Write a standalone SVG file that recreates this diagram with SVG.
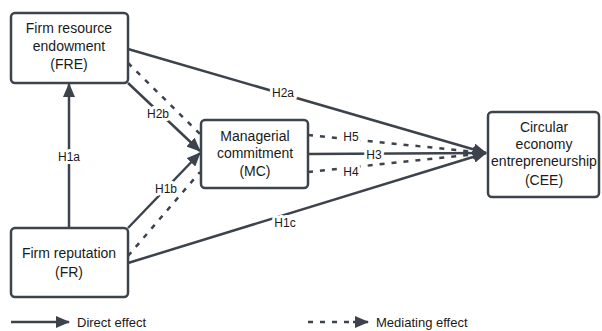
<svg xmlns="http://www.w3.org/2000/svg" width="602" height="331" viewBox="0 0 602 331">
<style>
.box{fill:#fff;stroke:#3c434c;stroke-width:2.5}
.t{font-family:"Liberation Sans",Arial,sans-serif;font-size:14px;fill:#1a1a1a;text-anchor:middle}
.lbl{font-family:"Liberation Sans",Arial,sans-serif;font-size:12px;fill:#1a1a1a;text-anchor:middle;stroke:#fff;stroke-width:6px;paint-order:stroke;stroke-linejoin:round}
.leg{font-family:"Liberation Sans",Arial,sans-serif;font-size:13px;fill:#1a1a1a}
.s{fill:none;stroke:#3c434c;stroke-width:2.5}
.d{fill:none;stroke:#3c434c;stroke-width:2.5;stroke-dasharray:5 7}
</style>
<defs>
<marker id="ah" markerUnits="userSpaceOnUse" markerWidth="14" markerHeight="12" refX="13" refY="6" orient="auto">
<path d="M0,0 L14,6 L0,12 Z" fill="#3c434c"/>
</marker>
</defs>
<g id="connectors">
<line class="s" x1="69" y1="228" x2="69" y2="84" marker-end="url(#ah)"/>
<line class="s" x1="128" y1="49" x2="486" y2="153" marker-end="url(#ah)"/>
<line class="s" x1="128" y1="83" x2="200" y2="151" marker-end="url(#ah)"/>
<line class="d" x1="128" y1="63" x2="200" y2="134"/>
<line class="s" x1="128" y1="228" x2="200" y2="153" marker-end="url(#ah)"/>
<line class="d" x1="128" y1="256" x2="200" y2="172"/>
<line class="s" x1="128" y1="263" x2="486" y2="153" marker-end="url(#ah)"/>
<line class="s" x1="308" y1="154" x2="486" y2="153" marker-end="url(#ah)"/>
<line class="d" x1="308" y1="135" x2="486" y2="153"/>
<line class="d" x1="308" y1="172" x2="486" y2="153"/>
<text class="lbl" x="69" y="161">H1a</text>
<text class="lbl" x="283" y="97">H2a</text>
<text class="lbl" x="158" y="118">H2b</text>
<text class="lbl" x="166" y="193">H1b</text>
<text class="lbl" x="285" y="227">H1c</text>
<text class="lbl" x="351" y="141">H5</text>
<text class="lbl" x="374" y="159">H3</text>
<text class="lbl" x="351" y="176">H4</text>
</g>
<g id="FRE">
<rect class="box" x="11" y="13" width="117" height="70" rx="4"/>
<text class="t" x="69" y="33">Firm resource</text>
<text class="t" x="69" y="51">endowment</text>
<text class="t" x="69" y="69">(FRE)</text>
</g>
<g id="FR">
<rect class="box" x="11" y="228" width="117" height="69" rx="4"/>
<text class="t" x="69" y="258">Firm reputation</text>
<text class="t" x="69" y="277">(FR)</text>
</g>
<g id="MC">
<rect class="box" x="201" y="120" width="107" height="68" rx="4"/>
<text class="t" x="255" y="141">Managerial</text>
<text class="t" x="255" y="158">commitment</text>
<text class="t" x="255" y="176">(MC)</text>
</g>
<g id="CEE">
<rect class="box" x="488" y="112" width="111" height="85" rx="4"/>
<text class="t" x="544" y="132">Circular</text>
<text class="t" x="544" y="149">economy</text>
<text class="t" x="544" y="166">entrepreneurship</text>
<text class="t" x="544" y="185">(CEE)</text>
</g>
<g id="legend">
<line class="s" x1="11" y1="322" x2="69" y2="322" marker-end="url(#ah)"/>
<text class="leg" x="77" y="327">Direct effect</text>
<line class="d" x1="308" y1="322" x2="352" y2="322"/>
<line class="s" x1="353" y1="322" x2="368" y2="322" marker-end="url(#ah)" stroke-width="0"/>
<text class="leg" x="376" y="327">Mediating effect</text>
</g>
</svg>
